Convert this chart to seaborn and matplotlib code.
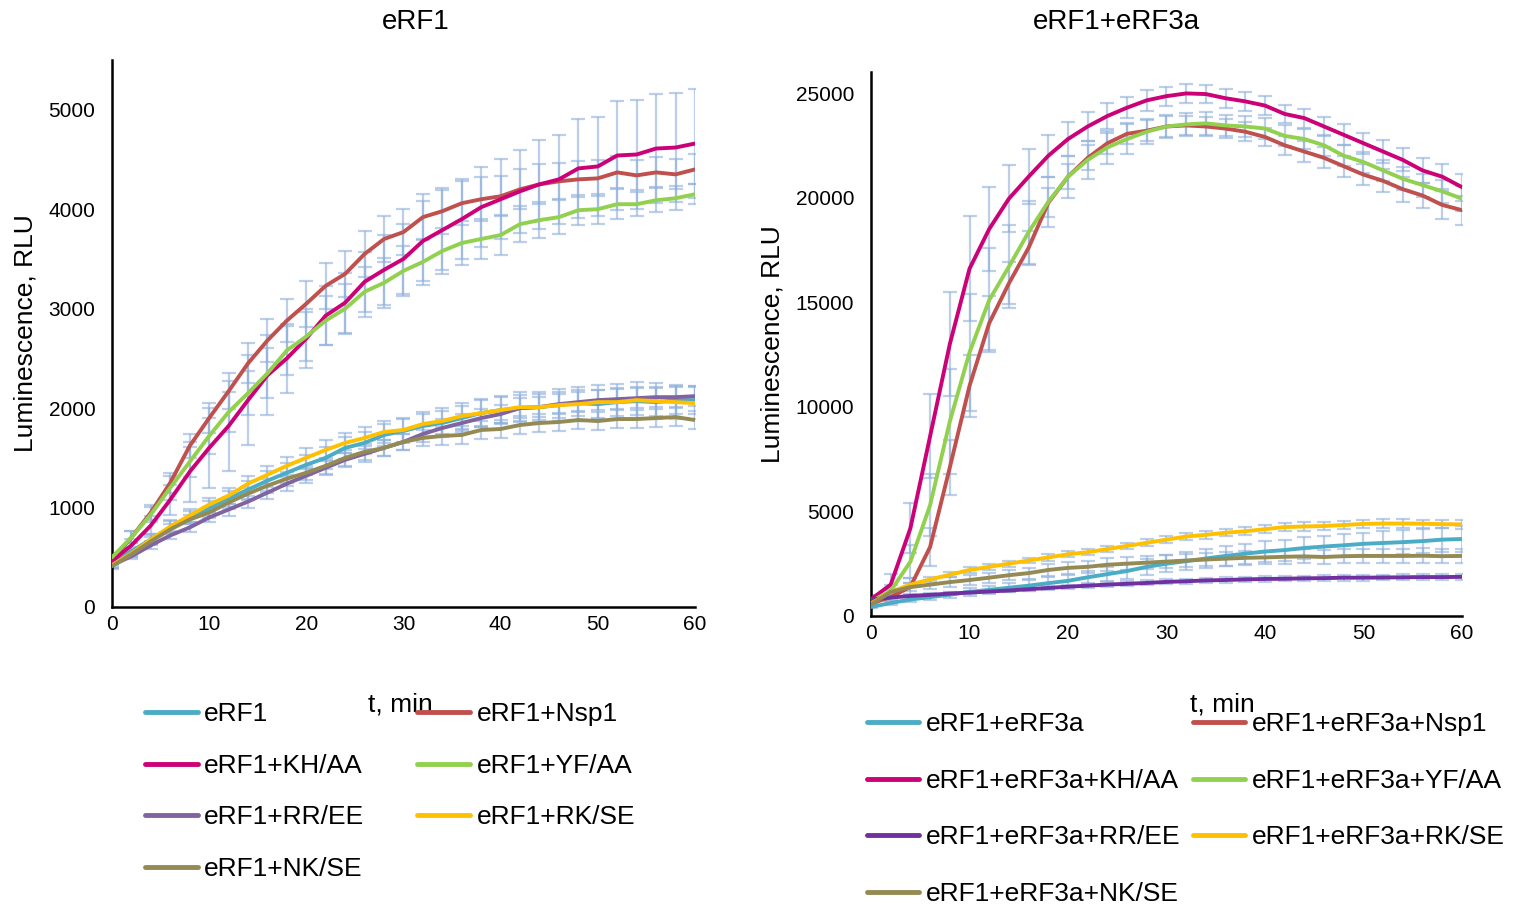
import numpy as np
import pandas as pd
import matplotlib
matplotlib.use("Agg")
import matplotlib.pyplot as plt
import seaborn as sns

# time points, min (every 2 min)
t = list(range(0, 61, 2))

# ---- panel 1: eRF1 ----
erf1 = [430, 560, 680, 800, 900, 990, 1090, 1180, 1270, 1350, 1430, 1500, 1600, 1650, 1730, 1770,
        1820, 1850, 1900, 1950, 1980, 2000, 2010, 2030, 2050, 2040, 2060, 2070, 2060, 2080, 2080]
erf1_nsp1 = [470, 700, 950, 1250, 1620, 1900, 2170, 2450, 2680, 2880, 3050, 3230, 3350, 3550, 3700, 3770,
             3920, 3980, 4060, 4100, 4130, 4200, 4250, 4280, 4300, 4310, 4370, 4340, 4370, 4350, 4400]
erf1_kh = [460, 620, 820, 1080, 1360, 1600, 1820, 2080, 2330, 2500, 2700, 2930, 3060, 3270, 3390, 3500,
           3680, 3790, 3900, 4020, 4100, 4180, 4250, 4300, 4410, 4430, 4540, 4550, 4610, 4620, 4660]
erf1_yf = [500, 700, 930, 1200, 1460, 1720, 1960, 2150, 2350, 2580, 2720, 2880, 3000, 3170, 3260, 3380,
           3470, 3580, 3660, 3700, 3740, 3850, 3890, 3920, 3990, 4000, 4050, 4050, 4090, 4110, 4150]
erf1_rr = [420, 510, 620, 720, 800, 900, 980, 1060, 1150, 1240, 1320, 1400, 1480, 1540, 1600, 1660,
           1740, 1800, 1850, 1900, 1940, 2000, 2010, 2040, 2060, 2080, 2090, 2100, 2110, 2110, 2120]
erf1_rk = [420, 540, 680, 810, 920, 1030, 1120, 1240, 1330, 1420, 1500, 1580, 1650, 1700, 1760, 1780,
           1840, 1870, 1920, 1950, 1980, 2010, 2010, 2030, 2040, 2060, 2060, 2080, 2070, 2060, 2050]
erf1_nk = [410, 530, 660, 780, 880, 950, 1050, 1140, 1220, 1290, 1350, 1420, 1500, 1560, 1600, 1660,
           1700, 1720, 1730, 1780, 1790, 1830, 1850, 1860, 1880, 1870, 1890, 1890, 1900, 1910, 1880]

err1 = [30, 40, 50, 60, 70, 80, 80, 90, 100, 100, 100, 110, 110, 110, 110, 120,
        120, 120, 120, 130, 130, 130, 130, 130, 130, 140, 140, 140, 140, 140, 140]
err1_nsp1 = [40, 60, 80, 100, 120, 150, 180, 200, 220, 220, 230, 230, 230, 230, 230, 230,
             230, 230, 220, 220, 200, 200, 200, 180, 180, 180, 160, 150, 150, 150, 150]
err1_kh = [40, 60, 100, 150, 300, 400, 450, 450, 400, 350, 300, 300, 300, 300, 350, 350,
           400, 400, 400, 400, 400, 420, 450, 450, 500, 500, 550, 550, 550, 550, 550]
err1_yf = [40, 60, 80, 120, 150, 180, 200, 220, 250, 250, 250, 250, 250, 250, 250, 250,
           230, 230, 220, 200, 200, 180, 180, 170, 150, 150, 150, 120, 120, 120, 100]
err1_rr = [30, 30, 40, 40, 50, 50, 60, 60, 60, 70, 70, 70, 70, 80, 80, 80,
           80, 90, 90, 90, 90, 100, 100, 100, 100, 100, 100, 100, 100, 100, 100]
err1_rk = [30, 40, 50, 60, 70, 70, 80, 80, 90, 90, 100, 100, 100, 110, 110, 120,
           120, 130, 130, 140, 140, 150, 150, 160, 170, 170, 180, 180, 180, 170, 160]
err1_nk = [30, 30, 40, 50, 50, 60, 60, 60, 70, 70, 70, 80, 80, 80, 80, 80,
           80, 90, 90, 90, 90, 90, 90, 90, 90, 90, 90, 90, 90, 90, 90]

# ---- panel 2: eRF1+eRF3a ----
erf3 = [430, 620, 790, 900, 1020, 1150, 1250, 1350, 1450, 1570, 1680, 1850, 2000, 2150, 2350, 2500,
        2620, 2750, 2870, 2980, 3080, 3150, 3250, 3320, 3380, 3450, 3490, 3530, 3580, 3650, 3680]
erf3_nsp1 = [600, 900, 1400, 3300, 7100, 11000, 14000, 15900, 17600, 19750, 21000, 21900, 22600, 23050, 23200, 23400,
             23450, 23400, 23300, 23150, 22900, 22500, 22200, 21900, 21500, 21100, 20800, 20400, 20100, 19650, 19400]
erf3_kh = [800, 1500, 4200, 8600, 13000, 16600, 18500, 19950, 21000, 22000, 22800, 23400, 23900, 24300, 24650, 24850,
           24980, 24950, 24750, 24600, 24400, 24000, 23800, 23400, 23000, 22600, 22200, 21800, 21300, 21000, 20500]
erf3_yf = [700, 1200, 2600, 5300, 9300, 12600, 15100, 16700, 18350, 19800, 21000, 21800, 22400, 22800, 23150, 23400,
           23500, 23550, 23450, 23400, 23300, 22950, 22800, 22500, 22000, 21700, 21300, 20900, 20600, 20300, 19950]
erf3_rr = [800, 880, 960, 1010, 1070, 1120, 1170, 1220, 1280, 1340, 1400, 1450, 1500, 1540, 1580, 1630,
           1660, 1700, 1720, 1750, 1770, 1780, 1800, 1810, 1830, 1830, 1840, 1850, 1860, 1860, 1870]
erf3_rk = [600, 1150, 1500, 1750, 1970, 2200, 2350, 2500, 2650, 2800, 2950, 3050, 3200, 3350, 3500, 3650,
           3800, 3880, 3980, 4050, 4150, 4250, 4280, 4300, 4350, 4400, 4420, 4420, 4410, 4390, 4380]
erf3_nk = [550, 1150, 1380, 1500, 1620, 1720, 1830, 1950, 2050, 2200, 2300, 2350, 2450, 2500, 2550, 2600,
           2650, 2700, 2740, 2780, 2800, 2830, 2850, 2820, 2860, 2870, 2870, 2870, 2880, 2860, 2870]

err3 = [50, 80, 100, 120, 150, 180, 200, 220, 250, 280, 300, 320, 340, 360, 380, 400,
        420, 440, 460, 480, 500, 500, 520, 520, 540, 540, 560, 560, 580, 580, 600]
err3_nsp1 = [100, 200, 400, 900, 1300, 1500, 1300, 1000, 800, 700, 600, 600, 500, 500, 500, 500,
             450, 450, 450, 450, 450, 450, 500, 500, 500, 500, 550, 600, 600, 650, 700]
err3_kh = [200, 500, 1200, 2000, 2500, 2500, 2000, 1600, 1300, 1000, 800, 700, 600, 500, 500, 450,
           450, 450, 450, 450, 450, 450, 450, 450, 500, 500, 550, 550, 600, 600, 650]
err3_yf = [150, 300, 800, 1500, 2500, 2800, 2500, 2000, 1500, 1200, 1000, 900, 800, 700, 600, 550,
           550, 550, 500, 500, 500, 500, 500, 500, 500, 500, 500, 550, 550, 550, 600]
err3_rr = [60, 60, 70, 70, 80, 80, 90, 90, 100, 100, 100, 110, 110, 110, 120, 120,
           120, 120, 130, 130, 130, 130, 130, 140, 140, 140, 140, 140, 140, 140, 140]
err3_rk = [80, 100, 100, 120, 120, 130, 130, 140, 140, 150, 150, 150, 160, 160, 170, 170,
           180, 180, 180, 190, 190, 190, 200, 200, 200, 200, 200, 200, 200, 200, 200]
err3_nk = [80, 150, 180, 200, 220, 230, 240, 250, 260, 270, 280, 290, 300, 300, 310, 310,
           320, 320, 330, 330, 330, 340, 340, 340, 340, 350, 350, 350, 350, 350, 350]

labels1 = ["eRF1", "eRF1+Nsp1", "eRF1+KH/AA", "eRF1+YF/AA", "eRF1+RR/EE", "eRF1+RK/SE", "eRF1+NK/SE"]
labels3 = ["eRF1+eRF3a", "eRF1+eRF3a+Nsp1", "eRF1+eRF3a+KH/AA", "eRF1+eRF3a+YF/AA",
           "eRF1+eRF3a+RR/EE", "eRF1+eRF3a+RK/SE", "eRF1+eRF3a+NK/SE"]
colors1 = ["#4bacc6", "#c0504d", "#cc0077", "#92d050", "#8064a2", "#ffc000", "#948a54"]
colors3 = ["#4bacc6", "#c0504d", "#cc0077", "#92d050", "#7030a0", "#ffc000", "#948a54"]

vals1 = [erf1, erf1_nsp1, erf1_kh, erf1_yf, erf1_rr, erf1_rk, erf1_nk]
errs1 = [err1, err1_nsp1, err1_kh, err1_yf, err1_rr, err1_rk, err1_nk]
vals3 = [erf3, erf3_nsp1, erf3_kh, erf3_yf, erf3_rr, erf3_rk, erf3_nk]
errs3 = [err3, err3_nsp1, err3_kh, err3_yf, err3_rr, err3_rk, err3_nk]

sns.set_style("white")
plt.rcParams["font.family"] = ["Liberation Sans", "DejaVu Sans"]
plt.rcParams["text.color"] = "black"
plt.rcParams["axes.labelcolor"] = "black"
plt.rcParams["xtick.color"] = "black"
plt.rcParams["ytick.color"] = "black"

fig = plt.figure(figsize=(15.26, 9.08), dpi=100)
ax1 = fig.add_axes([0.0734, 0.3315, 0.382, 0.6024])
ax2 = fig.add_axes([0.5708, 0.3216, 0.3872, 0.599])


def draw_panel(ax, labels, colors, vals, errs, ylim, yticks):
    df = pd.concat([pd.DataFrame({"t": t, "RLU": v, "series": lab}) for lab, v in zip(labels, vals)])
    for v, e in zip(vals, errs):
        ax.errorbar(t, v, yerr=e, fmt="none", ecolor="#8fb0dc", alpha=0.6,
                    elinewidth=1.6, capsize=5, capthick=1.6, zorder=1)
    sns.lineplot(data=df, x="t", y="RLU", hue="series", hue_order=labels,
                 palette=dict(zip(labels, colors)), linewidth=2.8, ax=ax, zorder=3)
    ax.set_xlim(0, 60)
    ax.set_ylim(*ylim)
    ax.set_xticks(range(0, 61, 10))
    ax.set_yticks(yticks)
    ax.tick_params(axis="both", labelsize=15, length=0, pad=6, colors="black")
    ax.tick_params(axis="y", length=6, width=1.5, direction="out")
    for s in ["top", "right"]:
        ax.spines[s].set_visible(False)
    for s in ["left", "bottom"]:
        ax.spines[s].set_color("black")
        ax.spines[s].set_linewidth(1.8)
    ax.set_xlabel("")
    ax.set_ylabel("Luminescence, RLU", fontsize=19, labelpad=8, color="black")
    h, l = ax.get_legend_handles_labels()
    ax.get_legend().remove()
    return h, l


h1, l1 = draw_panel(ax1, labels1, colors1, vals1, errs1, (0, 5500), range(0, 5001, 1000))
h3, l3 = draw_panel(ax2, labels3, colors3, vals3, errs3, (0, 26000), range(0, 25001, 5000))

fig.text(0.2726, 0.9758, "eRF1", fontsize=20, ha="center", va="center")
fig.text(0.7313, 0.9758, "eRF1+eRF3a", fontsize=20, ha="center", va="center")

order = [0, 2, 4, 6, 1, 3, 5]
for h in h1 + h3:
    h.set_linewidth(3.5)

fig.text(0.2626, 0.224, "t, min", fontsize=19, ha="center", va="center")
fig.text(0.8008, 0.224, "t, min", fontsize=19, ha="center", va="center")

fig.legend([h1[i] for i in order], [l1[i] for i in order], loc="upper left",
           bbox_to_anchor=(0.088, 0.238), ncol=2, frameon=False, fontsize=19,
           handlelength=2.0, handletextpad=0.25, columnspacing=2.0, labelspacing=1.04,
           borderaxespad=0)
fig.legend([h3[i] for i in order], [l3[i] for i in order], loc="upper left",
           bbox_to_anchor=(0.561, 0.227), ncol=2, frameon=False, fontsize=19,
           handlelength=2.0, handletextpad=0.25, columnspacing=0.45, labelspacing=1.23,
           borderaxespad=0)

fig.savefig("out.png", dpi=100)
